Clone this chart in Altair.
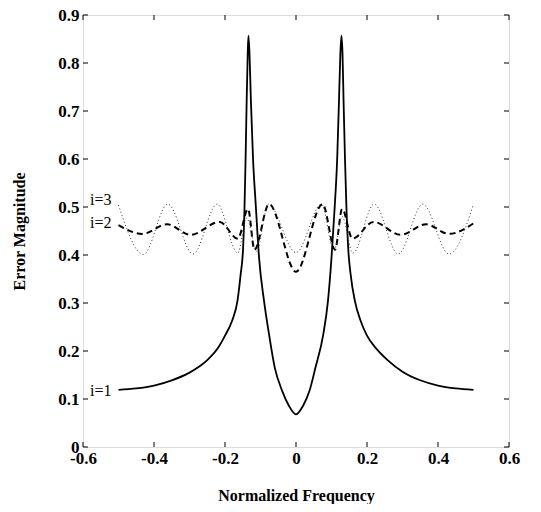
import altair as alt
import pandas as pd

# ---- data ----
x1 = [-0.5, -0.45, -0.4, -0.35, -0.3, -0.25, -0.22, -0.2, -0.18, -0.165, -0.156, -0.149,
      -0.145, -0.142, -0.139, -0.136, -0.134, -0.131, -0.127, -0.121, -0.113, -0.104, -0.09,
      -0.076, -0.06, -0.039, -0.02, 0.0, 0.02, 0.038, 0.055, 0.077, 0.09, 0.1, 0.109, 0.116,
      0.121, 0.125, 0.128, 0.131, 0.134, 0.138, 0.142, 0.147, 0.154, 0.166, 0.182, 0.2, 0.225,
      0.258, 0.3, 0.35, 0.4, 0.45, 0.5]
y1 = [0.119, 0.122, 0.128, 0.139, 0.155, 0.181, 0.206, 0.232, 0.263, 0.304, 0.359, 0.415,
      0.500, 0.600, 0.720, 0.820, 0.857, 0.820, 0.720, 0.600, 0.500, 0.394, 0.304,
      0.235, 0.166, 0.117, 0.086, 0.068, 0.086, 0.117, 0.166, 0.235, 0.304, 0.394, 0.500, 0.600,
      0.720, 0.820, 0.857, 0.820, 0.720, 0.600, 0.500, 0.415, 0.359, 0.304, 0.263, 0.232, 0.206,
      0.181, 0.157, 0.139, 0.128, 0.122, 0.119]

x2 = [-0.5, -0.433, -0.363, -0.297, -0.215, -0.164, -0.135, -0.117, -0.076, 0.0, 0.075,
      0.11, 0.13, 0.159, 0.218, 0.295, 0.366, 0.431, 0.5]
y2 = [0.462, 0.444, 0.464, 0.442, 0.469, 0.434, 0.496, 0.411, 0.506, 0.365, 0.506,
      0.411, 0.496, 0.434, 0.469, 0.442, 0.464, 0.444, 0.466]

x3 = [-0.5, -0.43, -0.361, -0.29, -0.222, -0.164, -0.139, -0.111, -0.078, 0.0, 0.072,
      0.107, 0.13, 0.16, 0.22, 0.288, 0.357, 0.431, 0.5]
y3 = [0.504, 0.401, 0.506, 0.402, 0.506, 0.404, 0.477, 0.408, 0.506, 0.405, 0.506,
      0.408, 0.48, 0.404, 0.506, 0.402, 0.506, 0.402, 0.506]

label_text = ["i=3", "i=2", "i=1"]
label_x = [-0.58, -0.58, -0.58]
label_y = [0.515, 0.466, 0.117]

x_ticks = [-0.6, -0.4, -0.2, 0, 0.2, 0.4, 0.6]
y_ticks = [0, 0.1, 0.2, 0.3, 0.4, 0.5, 0.6, 0.7, 0.8, 0.9]

W, H = 426, 432
FONT = "Liberation Serif, DejaVu Serif, Times New Roman, serif"

d1 = pd.DataFrame({"x": x1, "y": y1})
d2 = pd.DataFrame({"x": x2, "y": y2})
d3 = pd.DataFrame({"x": x3, "y": y3})
dl = pd.DataFrame({"x": label_x, "y": label_y, "t": label_text})
dxt = pd.DataFrame({"v": x_ticks})
dyt = pd.DataFrame({"v": y_ticks})

xscale = alt.Scale(domain=[-0.6, 0.6], nice=False, zero=False)
yscale = alt.Scale(domain=[0, 0.9], nice=False, zero=False)

xaxis = alt.Axis(values=x_ticks, labelExpr="'' + datum.value", ticks=False, domain=False,
                 grid=False, labelFont=FONT, labelFontWeight="bold", labelFontSize=17,
                 labelColor="black", labelPadding=3, labelFlush=False, labelOverlap=False,
                 title="Normalized Frequency", titleFont=FONT, titleFontWeight="bold",
                 titleFontSize=16, titleColor="black", titlePadding=21)
yaxis = alt.Axis(values=y_ticks, labelExpr="'' + datum.value", ticks=False, domain=False,
                 grid=False, labelFont=FONT, labelFontWeight="bold", labelFontSize=17,
                 labelColor="black", labelPadding=4, labelFlush=False, labelOverlap=False,
                 title="Error Magnitude", titleFont=FONT, titleFontWeight="bold",
                 titleFontSize=16, titleColor="black", titlePadding=30)

line1 = alt.Chart(d1).mark_line(color="black", strokeWidth=1.8, interpolate="monotone").encode(
    x=alt.X("x:Q", scale=xscale, axis=xaxis),
    y=alt.Y("y:Q", scale=yscale, axis=yaxis),
)
line2 = alt.Chart(d2).mark_line(color="black", strokeWidth=2, strokeDash=[6, 4],
                                interpolate="monotone").encode(x="x:Q", y="y:Q")
line3 = alt.Chart(d3).mark_line(color="#333333", strokeWidth=1, strokeDash=[1, 2.5],
                                interpolate="monotone").encode(x="x:Q", y="y:Q")

labels = alt.Chart(dl).mark_text(font=FONT, fontSize=16, align="left", baseline="middle",
                                 color="black").encode(x="x:Q", y="y:Q", text="t:N")

tick_bottom = alt.Chart(dxt).mark_rule(color="black", strokeWidth=1).encode(
    x="v:Q", y=alt.value(H), y2=alt.value(H - 5))
tick_top = alt.Chart(dxt).mark_rule(color="black", strokeWidth=1).encode(
    x="v:Q", y=alt.value(0), y2=alt.value(5))
tick_left = alt.Chart(dyt).mark_rule(color="black", strokeWidth=1).encode(
    y="v:Q", x=alt.value(0), x2=alt.value(5))
tick_right = alt.Chart(dyt).mark_rule(color="black", strokeWidth=1).encode(
    y="v:Q", x=alt.value(W), x2=alt.value(W - 5))

chart = alt.layer(line1, line2, line3, labels, tick_bottom, tick_top, tick_left, tick_right).properties(
    width=W, height=H,
    autosize=alt.AutoSizeParams(type="none"),
    padding={"left": 75, "top": 7, "right": 24, "bottom": 57},
).configure_view(stroke="black", strokeWidth=1.2).configure(background="white")

chart.save("out.html", embed_options={"renderer": "svg", "actions": False})
